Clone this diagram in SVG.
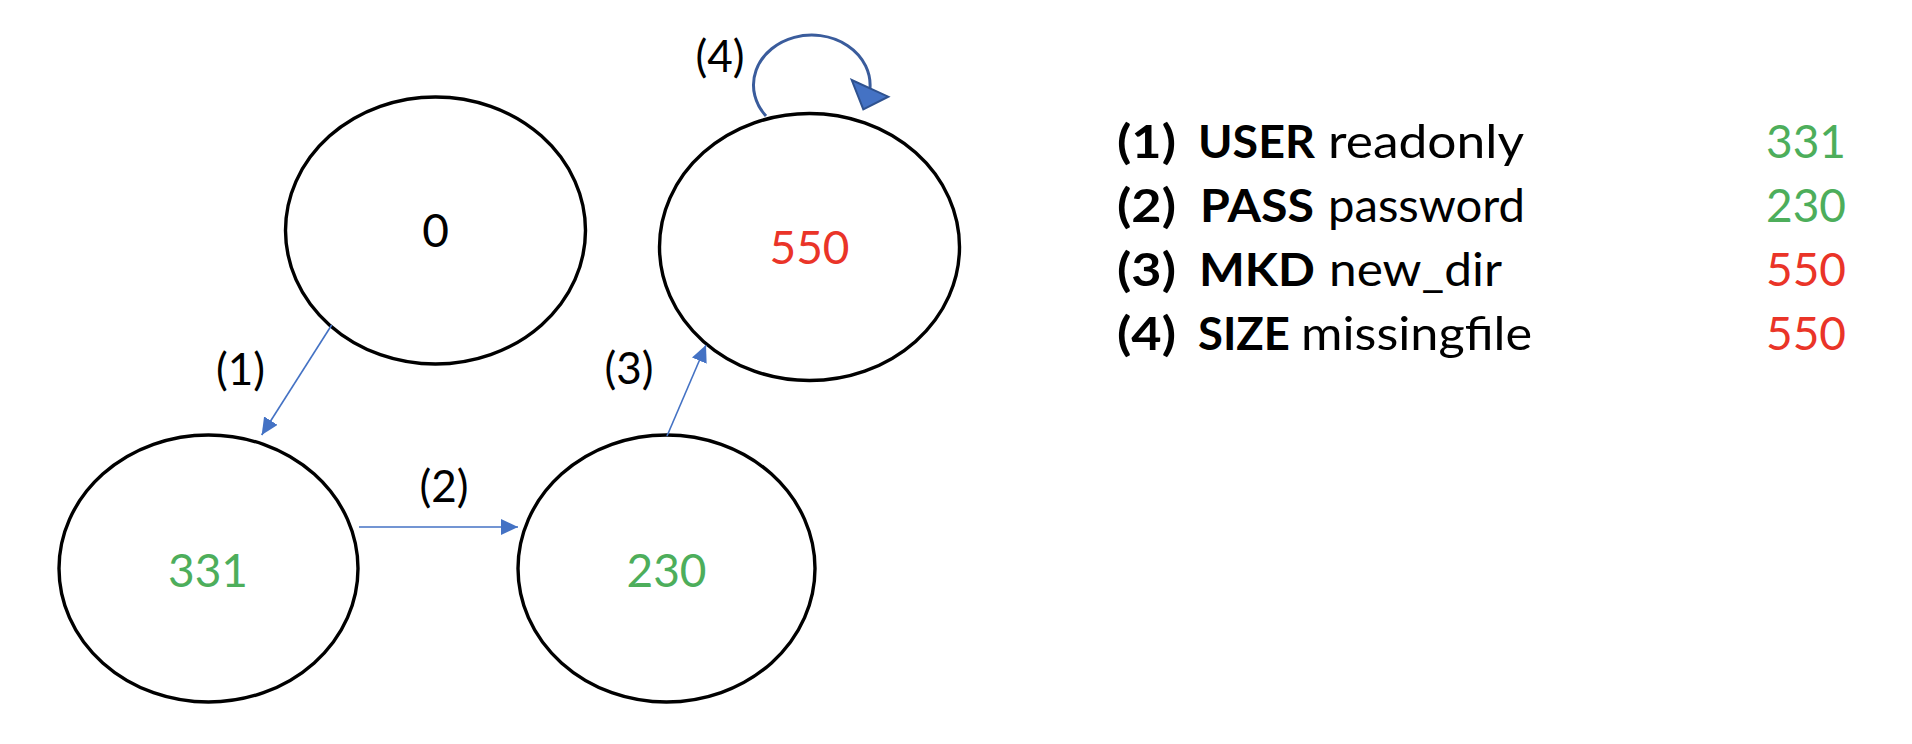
<svg xmlns="http://www.w3.org/2000/svg" width="1912" height="744" viewBox="0 0 1912 744">
<style>
.node{fill:#fff;stroke:#000;stroke-width:3.4}
.t{font-family:Lato,"Open Sans",sans-serif;font-size:46px}
.lbl{font-family:Lato,"Open Sans",sans-serif;font-size:44px;fill:#000;text-anchor:middle}
.num{text-anchor:middle}
.g{fill:#4DAE5B}
.r{fill:#EA3428}
.k{fill:#000}
.b{font-weight:bold}
.edge{stroke:#4472C4;stroke-width:1.6;fill:none}
</style>
<defs>
<marker id="ah" markerUnits="userSpaceOnUse" viewBox="0 0 17 16" markerWidth="17" markerHeight="16" refX="17" refY="8" orient="auto">
<path d="M0,0 L17,8 L0,16 z" fill="#4472C4"/>
</marker>
</defs>
<rect width="1912" height="744" fill="#fff"/>
<g id="n0">
<ellipse class="node" cx="435.5" cy="230.5" rx="150" ry="133.5"/>
<text class="t num k" x="435.5" y="247">0</text>
</g>
<g id="n550">
<ellipse class="node" cx="809.5" cy="247" rx="150" ry="133.5"/>
<text class="t num r" x="809.5" y="264">550</text>
</g>
<g id="n331">
<ellipse class="node" cx="208.5" cy="568.5" rx="149.5" ry="133.5"/>
<text class="t num g" x="208" y="586.5">331</text>
</g>
<g id="n230">
<ellipse class="node" cx="666.5" cy="568.5" rx="148.5" ry="133.5"/>
<text class="t num g" x="666.5" y="586.5">230</text>
</g>
<g id="connectors">
<line class="edge" x1="331.7" y1="325" x2="261.7" y2="435" marker-end="url(#ah)"/>
<line class="edge" x1="359" y1="527" x2="518" y2="527" marker-end="url(#ah)"/>
<line class="edge" x1="667" y1="436" x2="706" y2="345" marker-end="url(#ah)"/>
<path d="M766,116 A58.3,50 0 1 1 870,88" fill="none" stroke="#3A5C9C" stroke-width="3"/>
<polygon points="851.7,80 888.3,96.7 863.3,109.3" fill="#4472C4" stroke="#2F528F" stroke-width="2" stroke-linejoin="miter"/>
<text class="lbl" x="240.5" y="385">(1)</text>
<text class="lbl" x="444" y="502">(2)</text>
<text class="lbl" x="629" y="384">(3)</text>
<text class="lbl" x="720" y="72">(4)</text>
</g>
<g id="legend">
<text class="t b k" x="1117" y="158" textLength="59" lengthAdjust="spacingAndGlyphs">(1)</text>
<text class="t b k" x="1198" y="158" textLength="117" lengthAdjust="spacingAndGlyphs">USER</text>
<text class="t k" x="1328" y="158" textLength="196" lengthAdjust="spacingAndGlyphs">readonly</text>
<text class="t g" x="1846" y="158" text-anchor="end">331</text>

<text class="t b k" x="1117" y="222" textLength="59" lengthAdjust="spacingAndGlyphs">(2)</text>
<text class="t b k" x="1200" y="222" textLength="114" lengthAdjust="spacingAndGlyphs">PASS</text>
<text class="t k" x="1328" y="222" textLength="197" lengthAdjust="spacingAndGlyphs">password</text>
<text class="t g" x="1846" y="222" text-anchor="end">230</text>

<text class="t b k" x="1117" y="286" textLength="59" lengthAdjust="spacingAndGlyphs">(3)</text>
<text class="t b k" x="1199" y="286" textLength="116" lengthAdjust="spacingAndGlyphs">MKD</text>
<text class="t k" x="1329" y="286" textLength="173" lengthAdjust="spacingAndGlyphs">new_dir</text>
<text class="t r" x="1846" y="286" text-anchor="end">550</text>

<text class="t b k" x="1117" y="350" textLength="59" lengthAdjust="spacingAndGlyphs">(4)</text>
<text class="t b k" x="1198" y="350" textLength="92" lengthAdjust="spacingAndGlyphs">SIZE</text>
<text class="t k" x="1301" y="350" textLength="231" lengthAdjust="spacingAndGlyphs">missingfile</text>
<text class="t r" x="1846" y="350" text-anchor="end">550</text>
</g>
</svg>
